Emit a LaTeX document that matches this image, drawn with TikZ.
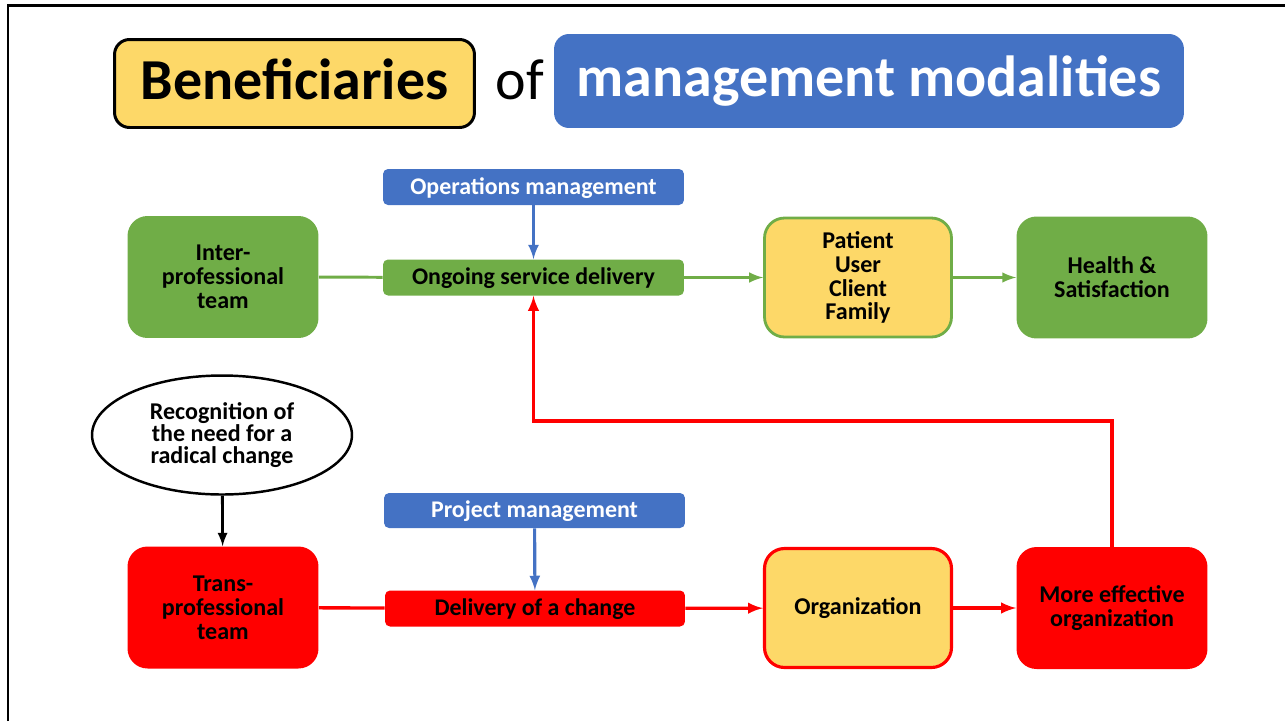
\documentclass[tikz,border=0pt]{standalone}
\usepackage{fontspec}
\setmainfont{Carlito}
\usetikzlibrary{shapes.geometric}

\definecolor{modgreen}{HTML}{70AD47}
\definecolor{modyellow}{HTML}{FDD868}
\definecolor{modblue}{HTML}{4472C4}
\definecolor{modred}{HTML}{FF0000}

\tikzset{
  bigbox/.style={rounded corners=0.4cm, minimum width=3.82cm, minimum height=2.44cm,
    align=center, inner sep=2pt, font=\bfseries\fontsize{13.7}{13.6}\selectfont},
  barbox/.style={rounded corners=0.1cm, minimum width=6.02cm, minimum height=0.72cm,
    inner sep=2pt, text height=9.5pt, text depth=1pt, font=\bfseries\fontsize{13.6}{13.6}\selectfont},
  greenline/.style={draw=modgreen, line width=1.7pt},
  redline/.style={draw=modred, line width=1.9pt},
  blueline/.style={draw=modblue, line width=1.8pt},
}

\begin{document}
\begin{tikzpicture}[x=0.02cm, y=-0.02cm]
    \useasboundingbox (0,0) rectangle (1285,721);
    \draw[line width=1.3pt] (8,721) -- (8,5.5) -- (1285,5.5);

    % title
    \node (bene) at (294.5,83.5) [draw, line width=1.7pt, fill=modyellow, rounded corners=0.3cm,
        minimum width=7.2cm, minimum height=1.76cm, text depth=5.5pt,
        font=\bfseries\fontsize{33}{36}\selectfont] {Beneficiaries};
    \node (of) at (520,80) [font=\fontsize{33}{36}\selectfont] {of};
    \node (mgmt) at (869,81) [fill=modblue, text=white, rounded corners=0.3cm,
        minimum width=12.6cm, minimum height=1.88cm, font=\bfseries\fontsize{33}{36}\selectfont] {management modalities};

    % operations
    \node (ops) at (533.5,187) [barbox, fill=modblue, text=white] {Operations management};
    \node (ongoing) at (533.5,277.5) [barbox, fill=modgreen] {Ongoing service delivery};
    \node (inter) at (223,277) [bigbox, fill=modgreen] {Inter-\\professional\\team};
    \node (patient) at (858,277.5) [bigbox, fill=modyellow, draw=modgreen, line width=1.6pt,
        minimum width=3.74cm, minimum height=2.38cm] {Patient\\User\\Client\\Family};
    \node (health) at (1112,277.5) [bigbox, fill=modgreen] {Health \&\\Satisfaction};

    \draw[greenline] (inter) -- (ongoing);
    \draw[greenline,-latex] (ongoing) -- (patient);
    \draw[greenline,-latex] (patient) -- (health);
    \draw[blueline,-latex] (ops) -- (ongoing);

    % change
    \node (need) at (222,435) [draw, ellipse, line width=1.4pt, minimum width=5.2cm, minimum height=2.38cm,
        inner sep=0pt, align=center, font=\bfseries\fontsize{13.7}{12.5}\selectfont]
        {Recognition of\\the need for a\\radical change};
    \node (proj) at (534.5,510.5) [barbox, fill=modblue, text=white, minimum height=0.7cm] {Project management};
    \node (delivery) at (535,608.5) [barbox, fill=modred, minimum width=6cm] {Delivery of a change};
    \node (trans) at (223,607.5) [bigbox, fill=modred] {Trans-\\professional\\team};
    \node (org) at (858,608) [bigbox, fill=modyellow, draw=modred, line width=1.8pt,
        minimum width=3.74cm, minimum height=2.38cm] {Organization};
    \node (more) at (1112,608) [bigbox, fill=modred] {More effective\\organization};

    \draw[line width=1.6pt,-latex] (need) -- (trans);
    \draw[redline] (trans) -- (delivery);
    \draw[redline,-latex] (delivery) -- (org);
    \draw[redline,-latex] (org) -- (more);
    \draw[blueline,-latex] (proj) -- (delivery);

    \coordinate (turn) at (1112,421);
    \draw[redline,-latex] (more.north) |- (ongoing.south |- turn) -- (ongoing.south);
\end{tikzpicture}
\end{document}
